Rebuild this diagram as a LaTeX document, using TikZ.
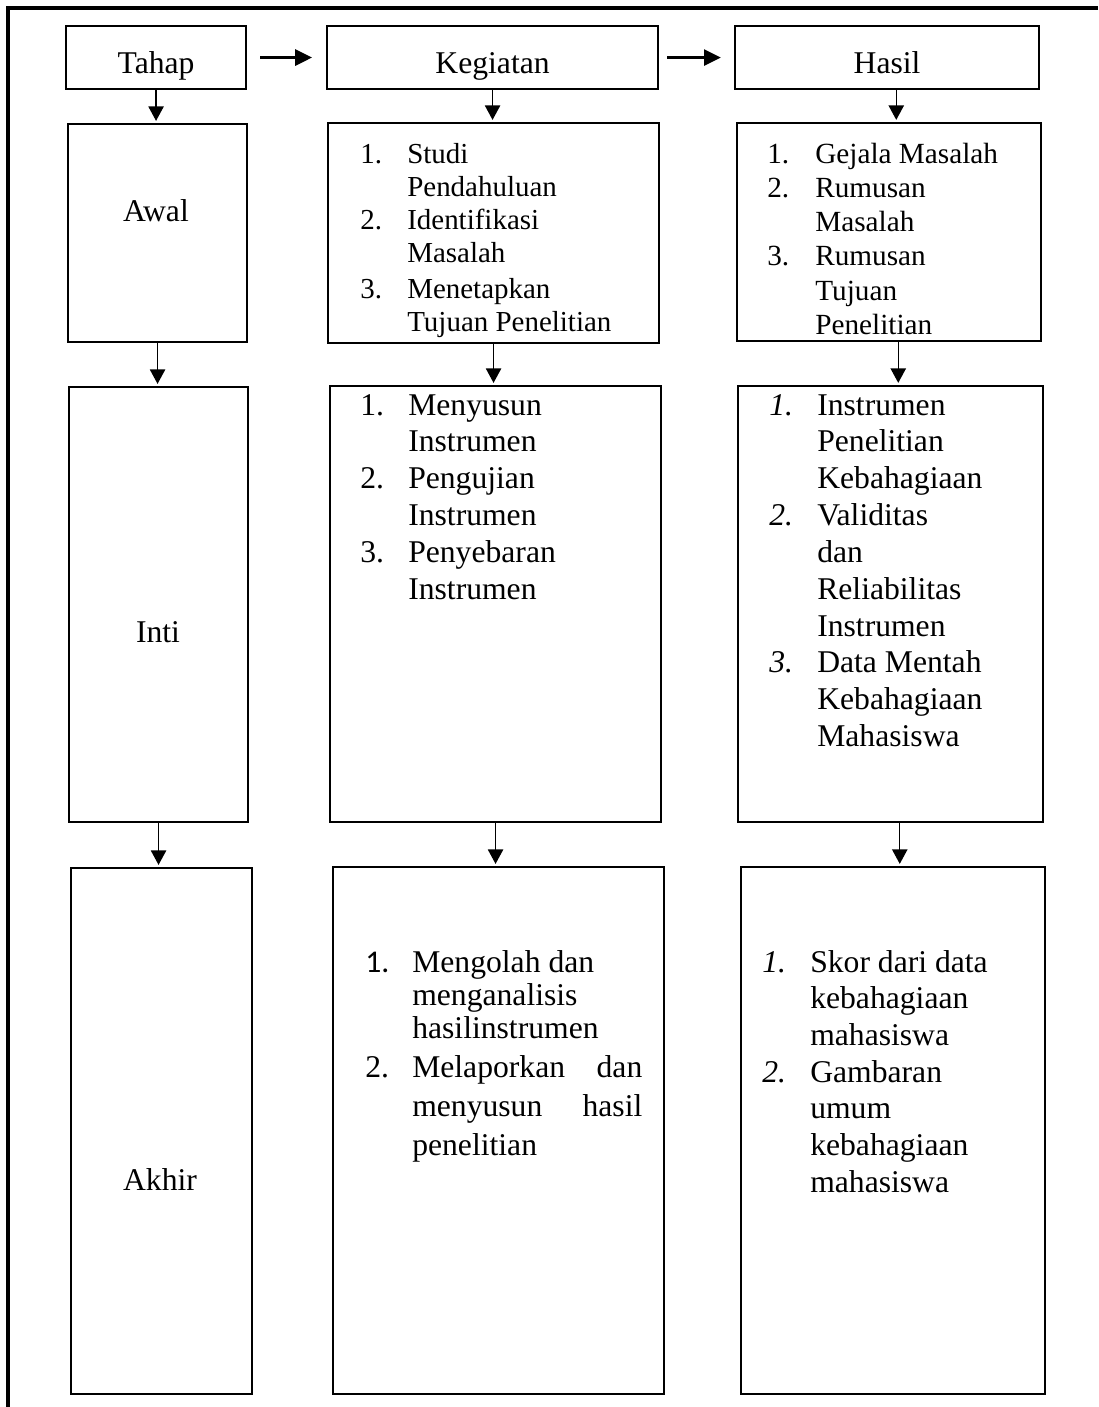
\documentclass[tikz,border=0pt]{standalone}
\usepackage{fontspec}
\setmainfont{Liberation Serif}
\newfontfamily\calibrifont{Carlito}
\usetikzlibrary{arrows.meta,positioning}

\begin{document}
\begin{tikzpicture}[x=0.025cm,y=-0.025cm,
    box/.style={draw, line width=1.5pt, inner sep=0pt, anchor=north west},
    sz/.style 2 args={minimum width=#1*0.025cm, minimum height=#2*0.025cm},
    head/.style={box, font=\fontsize{22.5}{26}\selectfont, text height=0.775cm, text depth=0pt},
    stage/.style={anchor=base, inner sep=0pt, font=\fontsize{22.5}{26}\selectfont},
    listtxt/.style={anchor=base west, inner sep=0pt},
    down/.style={line width=1pt, -{Triangle[length=0.36cm,width=0.38cm]}, shorten >=1.5pt},
    side/.style={line width=1.9pt, -{Triangle[length=0.42cm,width=0.4cm]}}]
    \useasboundingbox (0,0) rectangle (1098,1407);
    % frame
    \draw[line width=2.2pt] (8,1407) -- (8,8) -- (1098,8);
    % header row
    \node[head, sz={180}{63}] (tahap) at (65,25) {Tahap};
    \node[head, sz={331}{63}] (kegiatan) at (326,25) {Kegiatan};
    \node[head, sz={304}{63}] (hasil) at (734,25) {Hasil};
    \draw[side, shorten <=0.33cm, shorten >=0.35cm] (tahap) -- (kegiatan);
    \draw[side, shorten <=0.2cm, shorten >=0.33cm] (kegiatan) -- (hasil);
    % boxes
    \node[box, sz={179}{218}] (awal) at (67,123) {};
    \node[box, sz={331}{220}] (kegA) at (327,122) {};
    \node[box, sz={304}{218}] (hasA) at (736,122) {};
    \node[box, sz={179}{435}] (inti) at (68,386) {};
    \node[box, sz={331}{436}] (kegI) at (329,385) {};
    \node[box, sz={305}{436}] (hasI) at (737,385) {};
    \node[box, sz={181}{526}] (akhir) at (70,867) {};
    \node[box, sz={331}{527}] (kegK) at (332,866) {};
    \node[box, sz={304}{527}] (hasK) at (740,866) {};
    % stage labels
    \node[stage] (awaltxt) at (156,221) {Awal};
    \node[stage] (intitxt) at (158,642) {Inti};
    \node[stage] (akhirtxt) at (160,1190) {Akhir};
    % down arrows
    \draw[down] (tahap) -- (tahap |- awal.north);
    \draw[down] (awal) -- (awal |- inti.north);
    \draw[down] (inti) -- (inti |- akhir.north);
    \draw[down] (kegiatan) -- (kegiatan |- kegA.north);
    \draw[down] (kegA) -- (kegA |- kegI.north);
    \draw[down] (kegI) -- (kegI |- kegK.north);
    \begin{scope}[transform canvas={xshift=0.23cm}]
    \draw[down] (hasil) -- (hasil |- hasA.north);
    \draw[down] (hasA) -- (hasA |- hasI.north);
    \draw[down] (hasI) -- (hasI |- hasK.north);
    \end{scope}
    % lists
    \node[listtxt, font=\fontsize{20.6}{23.5}\selectfont] (kegAtxt) at (360,163) {%
        \begin{tabular}[t]{@{}p{1.175cm}@{}l@{}}
        1. & Studi\\
           & Pendahuluan\\
        2. & Identifikasi\\
           & Masalah\\[0.08cm]
        3. & Menetapkan\\
           & Tujuan Penelitian
        \end{tabular}};
    \node[listtxt, font=\fontsize{20.8}{24.4}\selectfont] (hasAtxt) at (767,163) {%
        \begin{tabular}[t]{@{}p{1.2cm}@{}l@{}}
        1. & Gejala Masalah\\
        2. & Rumusan\\
           & Masalah\\
        3. & Rumusan\\
           & Tujuan\\
           & Penelitian
        \end{tabular}};
    \node[listtxt, font=\fontsize{22.5}{26.2}\selectfont] (kegItxt) at (360,415) {%
        \begin{tabular}[t]{@{}p{1.2cm}@{}l@{}}
        1. & Menyusun\\
           & Instrumen\\
        2. & Pengujian\\
           & Instrumen\\
        3. & Penyebaran\\
           & Instrumen
        \end{tabular}};
    \node[listtxt, font=\fontsize{22.5}{26.2}\selectfont] (hasItxt) at (769,415) {%
        \begin{tabular}[t]{@{}p{1.2cm}@{}l@{}}
        \textit{1.} & Instrumen\\
           & Penelitian\\
           & Kebahagiaan\\
        \textit{2.} & Validitas\\
           & dan\\
           & Reliabilitas\\
           & Instrumen\\
        \textit{3.} & Data Mentah\\
           & Kebahagiaan\\
           & Mahasiswa
        \end{tabular}};
    \node[listtxt, font=\fontsize{22.5}{23.5}\selectfont] (kegKtxt) at (365,972) {%
        \begin{tabular}[t]{@{}p{1.175cm}@{}l@{}}
        {\calibrifont 1.} & Mengolah dan\\
           & menganalisis\\
           & hasilinstrumen\\[0.15cm]
        2. & \makebox[5.75cm][s]{Melaporkan\hfill dan}\\[0.15cm]
           & \makebox[5.75cm][s]{menyusun\hfill hasil}\\[0.15cm]
           & penelitian
        \end{tabular}};
    \node[listtxt, font=\fontsize{22.5}{26.1}\selectfont] (hasKtxt) at (762,972) {%
        \begin{tabular}[t]{@{}p{1.2cm}@{}l@{}}
        \textit{1.} & Skor dari data\\
           & kebahagiaan\\
           & mahasiswa\\
        \textit{2.} & Gambaran\\
           & umum\\
           & kebahagiaan\\
           & mahasiswa
        \end{tabular}};
\end{tikzpicture}
\end{document}
